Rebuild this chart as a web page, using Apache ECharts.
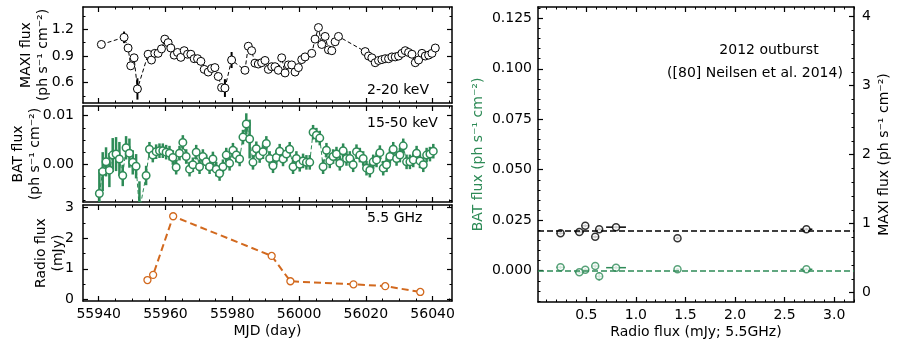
<!DOCTYPE html>
<html>
<head>
<meta charset="utf-8">
<script src="https://cdn.jsdelivr.net/npm/echarts@6/dist/echarts.min.js"></script>
<style>html,body{margin:0;padding:0;background:#fff}#main{width:897px;height:347px}</style>
</head>
<body>
<div id="main"></div>
<script>
// MAXI 2-20 keV light curve
var maxiMjd = [55940.8,55947.6,55948.8,55949.6,55950.6,55951.6,55954.8,55955.8,55956.8,55957.8,55958.8,55959.8,55960.8,55961.6,55962.6,55963.6,55964.6,55965.6,55966.6,55967.6,55968.6,55969.6,55970.6,55971.6,55972.8,55973.8,55974.8,55975.8,55976.8,55977.8,55979.8,55983.8,55984.8,55985.8,55986.8,55987.8,55988.8,55989.8,55990.8,55991.8,55992.8,55993.8,55994.8,55995.8,55996.8,55997.8,55998.8,55999.8,56000.8,56001.8,56003.8,56004.8,56005.8,56006.8,56007.8,56008.8,56009.8,56010.8,56011.8,56019.8,56020.8,56021.8,56022.8,56023.8,56024.8,56025.8,56026.8,56027.8,56028.8,56029.8,56030.8,56031.8,56032.8,56033.8,56034.8,56035.8,56036.8,56037.8,56038.8,56039.8,56040.8];
var maxiFlux = [1.03,1.11,0.99,0.79,0.88,0.53,0.92,0.855,0.93,0.93,0.98,1.09,1.05,0.99,0.91,0.94,0.885,0.96,0.92,0.92,0.87,0.87,0.84,0.75,0.72,0.76,0.77,0.67,0.545,0.54,0.855,0.74,1.01,0.96,0.82,0.81,0.825,0.85,0.75,0.78,0.78,0.74,0.88,0.71,0.80,0.80,0.72,0.77,0.86,0.89,0.93,1.09,1.22,1.03,1.12,0.97,0.96,1.06,1.12,0.95,0.90,0.88,0.825,0.85,0.86,0.87,0.87,0.89,0.89,0.90,0.93,0.96,0.94,0.92,0.825,0.855,0.93,0.90,0.91,0.93,0.99];
var maxiErr = [0.03,0.065,0.03,0.03,0.03,0.12,0.03,0.03,0.03,0.03,0.03,0.03,0.03,0.03,0.03,0.03,0.03,0.03,0.03,0.03,0.03,0.03,0.03,0.03,0.03,0.03,0.03,0.03,0.04,0.1,0.09,0.03,0.03,0.03,0.03,0.03,0.03,0.03,0.03,0.03,0.03,0.03,0.03,0.03,0.03,0.03,0.03,0.03,0.03,0.03,0.03,0.03,0.04,0.03,0.03,0.03,0.03,0.03,0.03,0.03,0.03,0.03,0.03,0.03,0.03,0.03,0.03,0.03,0.03,0.03,0.03,0.03,0.03,0.03,0.03,0.03,0.03,0.03,0.03,0.03,0.03];

// BAT 15-50 keV light curve
var batMjd = [55940.2,55941.2,55942.2,55943.2,55944.2,55945.2,55946.2,55947.2,55948.2,55949.2,55950.2,55951.2,55952.2,55954.2,55955.2,55956.2,55957.2,55958.2,55959.2,55960.2,55961.2,55962.2,55963.2,55964.2,55965.2,55966.2,55967.2,55968.2,55969.2,55970.2,55971.2,55972.2,55973.2,55974.2,55975.2,55976.2,55977.2,55978.2,55979.2,55980.2,55981.2,55982.2,55983.2,55984.2,55985.2,55986.2,55987.2,55988.2,55989.2,55990.2,55991.2,55992.2,55993.2,55994.2,55995.2,55996.2,55997.2,55998.2,55999.2,56000.2,56001.2,56002.2,56003.2,56004.2,56005.2,56006.2,56007.2,56008.2,56009.2,56010.2,56011.2,56012.2,56013.2,56014.2,56015.2,56016.2,56017.2,56018.2,56019.2,56020.2,56021.2,56022.2,56023.2,56024.2,56025.2,56026.2,56027.2,56028.2,56029.2,56030.2,56031.2,56032.2,56033.2,56034.2,56035.2,56036.2,56037.2,56038.2,56039.2,56040.2];
var batFlux = [-0.0060,-0.0015,0.0005,-0.0012,0.0019,0.0021,0.0011,-0.0023,0.0034,0.0023,0.0004,-0.0004,-0.0095,-0.0023,0.0031,0.0019,0.0026,0.0028,0.0028,0.0025,0.0023,0.0014,-0.0006,0.0023,0.0045,0.0016,-0.0010,-0.0001,0.0025,-0.0005,0.0016,0.0005,-0.0005,0.0011,-0.0010,-0.0019,-0.0005,0.0019,0.0002,0.0029,0.0019,0.0011,0.0056,0.0083,0.0052,0.0004,0.0032,0.0018,0.0026,0.0043,0.0012,-0.0003,0.0014,0.0027,0.0011,0.0021,0.0031,-0.0005,0.0012,0.0000,0.0007,0.0004,0.0004,0.0066,0.0060,0.0054,-0.0005,0.0029,0.0007,0.0016,0.0021,0.0002,0.0028,0.0012,0.0012,-0.0001,0.0026,0.0019,0.0012,-0.0008,-0.0012,0.0005,0.0009,0.0024,-0.0008,-0.0001,0.0016,0.0031,0.0012,0.0019,0.0038,0.0005,0.0005,0.0009,0.0023,0.0007,-0.0001,0.0019,0.0021,0.0027];
var batErr = [0.005,0.004,0.003,0.0035,0.0035,0.0035,0.0035,0.0022,0.0024,0.003,0.0025,0.0025,0.006,0.002,0.0015,0.0015,0.0015,0.0015,0.0015,0.0015,0.0015,0.0015,0.0015,0.0015,0.0015,0.0015,0.0015,0.0015,0.0015,0.0015,0.0015,0.0015,0.0015,0.0015,0.0015,0.0015,0.0015,0.0015,0.0015,0.0015,0.0015,0.0015,0.0015,0.0022,0.004,0.0015,0.0015,0.0015,0.0015,0.0015,0.0015,0.0015,0.0015,0.0015,0.0015,0.0015,0.0015,0.0015,0.0015,0.0015,0.0015,0.0015,0.0015,0.0015,0.0015,0.0015,0.0015,0.0015,0.0015,0.0015,0.0015,0.0015,0.0015,0.0015,0.0015,0.0015,0.0015,0.0015,0.0015,0.0015,0.0015,0.0015,0.0015,0.0015,0.0015,0.0015,0.0015,0.0015,0.0015,0.0015,0.0015,0.0015,0.0015,0.0015,0.0015,0.0015,0.0015,0.0015,0.0015,0.0015];

// radio 5.5 GHz epochs and the simultaneous X-ray fluxes
var radioMjd = [55954.6,55956.3,55962.3,55991.8,55997.4,56016.3,56025.8,56036.3];
var radioFlux = [0.63,0.80,2.72,1.42,0.59,0.49,0.43,0.24];
var radioErr = [0.03,0.1,0.06,0.02,0.03,0.035,0.045,0.04];
var simMaxi = [0.92,0.95,0.92,0.79,0.81,0.97,0.88,0.86];
var simMaxiErr = [0.02,0.02,0.02,0.02,0.02,0.02,0.02,0.02];
var simBat = [-0.0028,0.0015,0.0007,0.0007,0.0023,0.0005,-0.0008,0.0017];
var simBatErr = [0.002,0.0008,0.0006,0.0006,0.0008,0.0008,0.0008,0.0008];
var maxiMean = 0.9;
var batMean = 0.001;

// tick labels
var mjdTicks = [55940, 55960, 55980, 56000, 56020, 56040];
var maxiTicks = [0.6, 0.9, 1.2];
var batTicks = [0.00, 0.01];
var radioTicks = [0, 1, 2, 3];
var radioXTicks = [0.5, 1.0, 1.5, 2.0, 2.5, 3.0];
var batRightTicks = [0.000, 0.025, 0.050, 0.075, 0.100, 0.125];
var maxiRightTicks = [0, 1, 2, 3, 4];

var FONT = 'DejaVu Sans';
var GREEN = '#2e8b57';
var ORANGE = '#d2691e';

// minor tick positions: multiples of step inside [min, max]
function minorTicks(min, max, step) {
  var out = [];
  for (var k = Math.ceil(min / step - 1e-9); k * step <= max + 1e-12; k++) {
    out.push(+(k * step).toFixed(8));
  }
  return out;
}

// major + minor axis on one side of a grid (matplotlib-like inward ticks)
function side(gridIndex, pos, min, max, major, minorStep, label, extra) {
  var maj = {
    type: 'value', gridIndex: gridIndex, position: pos, min: min, max: max,
    splitLine: {show: false},
    axisLine: {show: true, onZero: false, lineStyle: {color: '#000', width: 1.5}},
    axisTick: {show: true, inside: true, length: 5, customValues: major, lineStyle: {color: '#000', width: 1.2}},
    axisLabel: label ? {
      show: true, margin: label.margin, color: '#000', fontSize: 14, fontFamily: FONT,
      customValues: major, formatter: label.fmt
    } : {show: false}
  };
  if (extra) Object.assign(maj, extra);
  var mnr = {
    type: 'value', gridIndex: gridIndex, position: pos, min: min, max: max,
    splitLine: {show: false},
    axisLine: {show: false, onZero: false},
    axisTick: {show: true, inside: true, length: 2.5, customValues: minorTicks(min, max, minorStep), lineStyle: {color: '#000', width: 1}},
    axisLabel: {show: false}
  };
  return [maj, mnr];
}

function nameOpt(text, gap, color) {
  return {
    name: text, nameLocation: 'middle', nameGap: gap, nameMoveOverlap: false,
    nameTextStyle: {color: color || '#000', fontSize: 14, fontFamily: FONT, lineHeight: 17}
  };
}

var X0 = 55935.3, X1 = 56045.8;
var fInt = function (v) { return Number(v).toFixed(0); };
var fix = function (n) { return function (v) { return Number(v).toFixed(n); }; };

var xAxes = [].concat(
  side(0, 'bottom', X0, X1, mjdTicks, 5), side(0, 'top', X0, X1, mjdTicks, 5),
  side(1, 'bottom', X0, X1, mjdTicks, 5), side(1, 'top', X0, X1, mjdTicks, 5),
  side(2, 'bottom', X0, X1, mjdTicks, 5, {margin: 6, fmt: fInt}, nameOpt('MJD (day)', 22)),
  side(2, 'top', X0, X1, mjdTicks, 5),
  side(3, 'bottom', 0.013, 3.2, radioXTicks, 0.1, {margin: 6, fmt: fix(1)}, nameOpt('Radio flux (mJy; 5.5GHz)', 22)),
  side(3, 'top', 0.013, 3.2, radioXTicks, 0.1)
);

var yAxes = [].concat(
  side(0, 'left', 0.372, 1.451, maxiTicks, 0.15, {margin: 9, fmt: fix(1)}, nameOpt('MAXI flux\n(ph s\u207B\u00B9 cm\u207B\u00B2)', 31)),
  side(0, 'right', 0.372, 1.451, maxiTicks, 0.15),
  side(1, 'left', -0.00776, 0.0120, batTicks, 0.0025, {margin: 9, fmt: fix(2)}, nameOpt('BAT flux\n(ph s\u207B\u00B9 cm\u207B\u00B2)', 39)),
  side(1, 'right', -0.00776, 0.0120, batTicks, 0.0025),
  side(2, 'left', -0.056, 3.088, radioTicks, 0.5, {margin: 9, fmt: fInt}, nameOpt('Radio flux\n(mJy)', 16)),
  side(2, 'right', -0.056, 3.088, radioTicks, 0.5),
  side(3, 'left', -0.0155, 0.1306, batRightTicks, 0.005, {margin: 6, fmt: fix(3)}, nameOpt('BAT flux (ph s\u207B\u00B9 cm\u207B\u00B2)', 51, GREEN)),
  side(3, 'right', -0.135, 4.141, maxiRightTicks, 0.2, {margin: 8, fmt: fInt}, nameOpt('MAXI flux (ph s\u207B\u00B9 cm\u207B\u00B2)', 22))
);

function zip(a, b) { return a.map(function (v, i) { return [v, b[i]]; }); }
function zip4(a, b, c, d) { return a.map(function (v, i) { return [v, b[i], c ? c[i] : 0, d ? d[i] : 0]; }); }

function errBars(xi, yi, data, color, width) {
  return {
    type: 'custom', xAxisIndex: xi, yAxisIndex: yi, clip: true, z: 1, silent: true,
    encode: {x: 0, y: 1},
    data: data,
    renderItem: function (params, api) {
      var x = api.value(0), y = api.value(1), ex = api.value(2), ey = api.value(3);
      var kids = [];
      var st = {stroke: color, lineWidth: width};
      if (ey > 0) {
        var a = api.coord([x, y - ey]), b = api.coord([x, y + ey]);
        kids.push({type: 'line', shape: {x1: a[0], y1: a[1], x2: b[0], y2: b[1]}, style: st});
      }
      if (ex > 0) {
        var c = api.coord([x - ex, y]), d = api.coord([x + ex, y]);
        kids.push({type: 'line', shape: {x1: c[0], y1: c[1], x2: d[0], y2: d[1]}, style: st});
      }
      return {type: 'group', children: kids};
    }
  };
}

function curve(xi, yi, data, color, lw, dash, size, bw) {
  return {
    type: 'line', xAxisIndex: xi, yAxisIndex: yi, data: data, clip: true, z: 3,
    symbol: 'circle', symbolSize: size, showAllSymbol: true,
    lineStyle: {color: color, width: lw, type: dash},
    itemStyle: {color: '#fff', borderColor: color, borderWidth: bw}
  };
}

var chart = echarts.init(document.getElementById('main'));
chart.setOption({
  animation: false,
  backgroundColor: '#fff',
  textStyle: {fontFamily: FONT},
  grid: [
    {left: 83, top: 7, width: 369, height: 96},
    {left: 83, top: 106, width: 369, height: 96},
    {left: 83, top: 205, width: 369, height: 96},
    {left: 538, top: 7, width: 316, height: 295}
  ],
  xAxis: xAxes,
  yAxis: yAxes,
  series: [
    errBars(0, 0, zip4(maxiMjd, maxiFlux, null, maxiErr), '#000', 2),
    curve(0, 0, zip(maxiMjd, maxiFlux), '#000', 1, [4, 2.5], 8, 1),
    errBars(4, 4, zip4(batMjd, batFlux, null, batErr), GREEN, 2.5),
    curve(4, 4, zip(batMjd, batFlux), GREEN, 1, [4, 2.5], 7.5, 1.5),
    curve(8, 8, zip(radioMjd, radioFlux), ORANGE, 2, [7, 4], 7, 1.3),
    errBars(12, 14, zip4(radioFlux, simMaxi, radioErr, simMaxiErr), '#000', 1.5),
    {
      type: 'scatter', xAxisIndex: 12, yAxisIndex: 14, z: 3,
      data: zip(radioFlux, simMaxi), symbol: 'circle', symbolSize: 7,
      itemStyle: {color: '#fff', borderColor: '#000', borderWidth: 1.5},
      markLine: {
        silent: true, symbol: 'none', label: {show: false},
        lineStyle: {color: '#000', width: 1.5, type: [6, 3]},
        data: [{yAxis: maxiMean}]
      }
    },
    errBars(12, 12, zip4(radioFlux, simBat, radioErr, simBatErr), GREEN, 1.5),
    {
      type: 'scatter', xAxisIndex: 12, yAxisIndex: 12, z: 3,
      data: zip(radioFlux, simBat), symbol: 'circle', symbolSize: 7,
      itemStyle: {color: '#fff', borderColor: GREEN, borderWidth: 1.5},
      markLine: {
        silent: true, symbol: 'none', label: {show: false},
        lineStyle: {color: GREEN, width: 1.5, type: [6, 3]},
        data: [{yAxis: batMean}]
      }
    }
  ],
  graphic: [
    {type: 'text', x: 367, y: 90, style: {text: '2-20 keV', font: '14px "DejaVu Sans"', fill: '#000', textAlign: 'left', textVerticalAlign: 'middle'}},
    {type: 'text', x: 367, y: 123, style: {text: '15-50 keV', font: '14px "DejaVu Sans"', fill: '#000', textAlign: 'left', textVerticalAlign: 'middle'}},
    {type: 'text', x: 367, y: 218, style: {text: '5.5 GHz', font: '14px "DejaVu Sans"', fill: '#000', textAlign: 'left', textVerticalAlign: 'middle'}},
    {type: 'text', x: 769, y: 50, style: {text: '2012 outburst', font: '14px "DejaVu Sans"', fill: '#000', textAlign: 'center', textVerticalAlign: 'middle'}},
    {type: 'text', x: 755, y: 73, style: {text: '([80] Neilsen et al. 2014)', font: '14px "DejaVu Sans"', fill: '#000', textAlign: 'center', textVerticalAlign: 'middle'}}
  ]
});
</script>
</body>
</html>
